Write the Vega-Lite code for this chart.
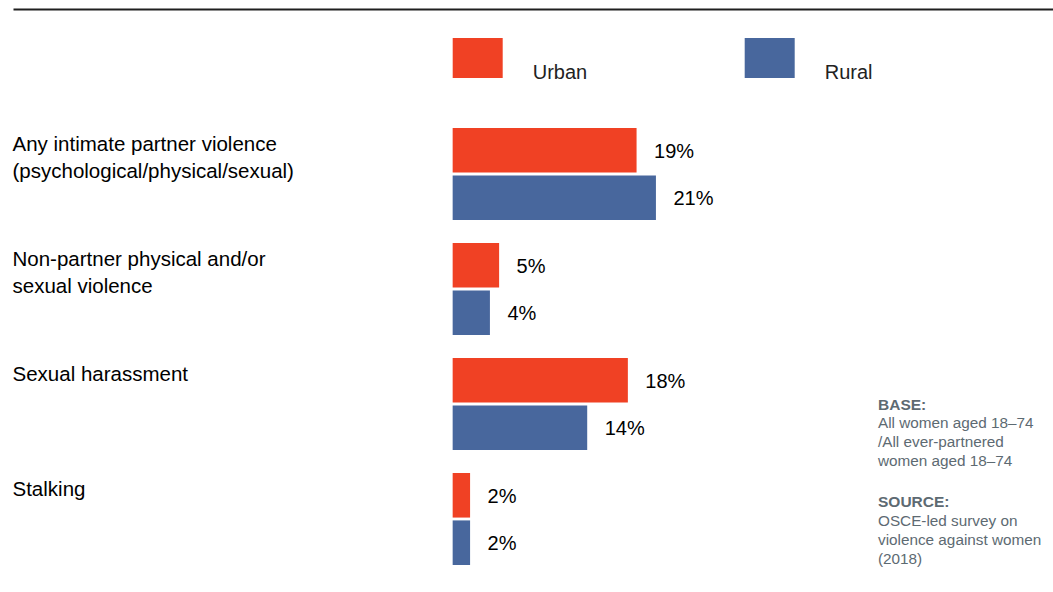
{
  "$schema": "https://vega.github.io/schema/vega-lite/v6.json",
  "autosize": {"type": "none"},
  "padding": {"left": 13, "top": 9, "right": 0, "bottom": 0},
  "width": 1040,
  "height": 583,
  "config": {"view": {"stroke": null}, "font": "Liberation Sans"},
  "datasets": {
    "bars": [
      {"category": "Any intimate partner violence|(psychological/physical/sexual)", "series": "Urban", "pct": 19.0, "label": "19%"},
      {"category": "Any intimate partner violence|(psychological/physical/sexual)", "series": "Rural", "pct": 21.0, "label": "21%"},
      {"category": "Non-partner physical and/or|sexual violence", "series": "Urban", "pct": 4.8, "label": "5%"},
      {"category": "Non-partner physical and/or|sexual violence", "series": "Rural", "pct": 3.85, "label": "4%"},
      {"category": "Sexual harassment", "series": "Urban", "pct": 18.1, "label": "18%"},
      {"category": "Sexual harassment", "series": "Rural", "pct": 13.9, "label": "14%"},
      {"category": "Stalking", "series": "Urban", "pct": 1.8, "label": "2%"},
      {"category": "Stalking", "series": "Rural", "pct": 1.8, "label": "2%"}
    ],
    "baseHead": [{"lines": ["BASE:"]}],
    "baseBody": [{"lines": ["All women aged 18–74", "/All ever-partnered", "women aged 18–74"]}],
    "sourceHead": [{"lines": ["SOURCE:"]}],
    "sourceBody": [{"lines": ["OSCE-led survey on", "violence against women", "(2018)"]}]
  },
  "layer": [
    {
      "data": {"name": "bars"},
      "mark": {"type": "bar"},
      "encoding": {
        "x": {"field": "pct", "type": "quantitative", "stack": null,
              "scale": {"domain": [-45.42, 62.02], "nice": false, "zero": false},
              "axis": {"orient": "top", "domain": true, "domainColor": "#1f1f1f", "domainWidth": 2, "labels": false, "ticks": false, "grid": false, "title": null}},
        "y": {"field": "category", "type": "nominal", "sort": null,
              "scale": {"domain": ["Any intimate partner violence|(psychological/physical/sexual)", "Non-partner physical and/or|sexual violence", "Sexual harassment", "Stalking"], "paddingInner": 0.2, "paddingOuter": 0.6348, "align": 0.815},
              "axis": {"title": null, "domain": false, "ticks": false, "tickSize": 0, "labelAlign": "left", "labelPadding": 1, "labelOffset": -22.5, "labelBaseline": "alphabetic", "labelFontSize": 20.5, "labelColor": "#000000", "labelLineHeight": 26.5, "labelLimit": 600, "labelOverlap": false, "labelExpr": "split(datum.label, '|')"}},
        "yOffset": {"field": "series", "type": "nominal", "sort": ["Urban", "Rural"], "scale": {"paddingInner": 0.06, "paddingOuter": 0}},
        "color": {"field": "series", "type": "nominal",
                  "scale": {"domain": ["Urban", "Rural"], "range": ["#F04124", "#48679D"]},
                  "legend": {"orient": "none", "legendX": 439.7, "legendY": 38.5, "direction": "horizontal", "title": null,
                             "symbolType": "M-1,-1.38H1V0.22H-1Z", "symbolSize": 2500, "symbolStrokeWidth": 0, "symbolOpacity": 1,
                             "labelFontSize": 20, "labelOffset": 30, "columnPadding": 157, "labelColor": "#222222"}}
      }
    },
    {
      "data": {"name": "bars"},
      "mark": {"type": "text", "align": "left", "baseline": "middle", "dx": 17.5, "dy": 1.5, "fontSize": 20, "color": "#000000"},
      "encoding": {
        "x": {"field": "pct", "type": "quantitative"},
        "y": {"field": "category", "type": "nominal", "sort": null},
        "yOffset": {"field": "series", "type": "nominal", "sort": ["Urban", "Rural"]},
        "text": {"field": "label", "type": "nominal"}
      }
    },
    {
      "data": {"name": "baseHead"},
      "mark": {"type": "text", "align": "left", "baseline": "alphabetic", "fontSize": 15.5, "fontWeight": "bold", "color": "#5D6A72", "dy": 6},
      "encoding": {
        "x": {"datum": 43.94},
        "y": {"datum": "Sexual harassment"},
        "text": {"field": "lines", "type": "nominal"}
      }
    },
    {
      "data": {"name": "baseBody"},
      "mark": {"type": "text", "align": "left", "baseline": "alphabetic", "fontSize": 15.3, "color": "#5D6A72", "lineHeight": 19, "dy": 24},
      "encoding": {
        "x": {"datum": 43.94},
        "y": {"datum": "Sexual harassment"},
        "text": {"field": "lines", "type": "nominal"}
      }
    },
    {
      "data": {"name": "sourceHead"},
      "mark": {"type": "text", "align": "left", "baseline": "alphabetic", "fontSize": 15.5, "fontWeight": "bold", "color": "#5D6A72", "dy": -12},
      "encoding": {
        "x": {"datum": 43.94},
        "y": {"datum": "Stalking"},
        "text": {"field": "lines", "type": "nominal"}
      }
    },
    {
      "data": {"name": "sourceBody"},
      "mark": {"type": "text", "align": "left", "baseline": "alphabetic", "fontSize": 15.3, "color": "#5D6A72", "lineHeight": 19, "dy": 7},
      "encoding": {
        "x": {"datum": 43.94},
        "y": {"datum": "Stalking"},
        "text": {"field": "lines", "type": "nominal"}
      }
    }
  ]
}
